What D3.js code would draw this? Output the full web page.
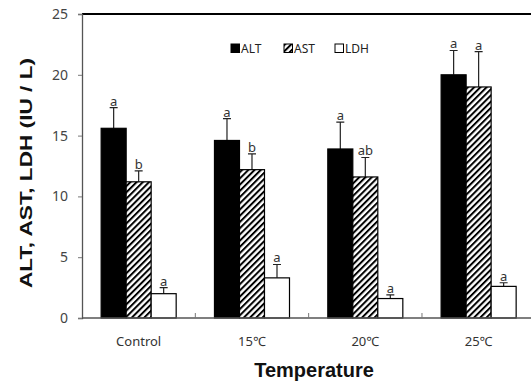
<!DOCTYPE html>
<html>
<head>
<meta charset="utf-8">
<script src="https://cdn.jsdelivr.net/npm/d3@7"></script>
<style>
  body { margin: 0; background: #fff; }
  svg { display: block; }
</style>
</head>
<body>
<script>
// values
const categories = ['Control', '15\u2103', '20\u2103', '25\u2103'];
const series = ['ALT', 'AST', 'LDH'];
const means = {
    ALT: [15.6, 14.6, 13.9, 20.0],
    AST: [11.2, 12.2, 11.6, 19.0],
    LDH: [2.0, 3.3, 1.6, 2.6]
};
const errors = {
    ALT: [1.7, 1.8, 2.2, 2.0],
    AST: [0.9, 1.3, 1.6, 2.9],
    LDH: [0.5, 1.1, 0.3, 0.3]
};
const letters = {
    ALT: ['a', 'a', 'a', 'a'],
    AST: ['b', 'b', 'ab', 'a'],
    LDH: ['a', 'a', 'a', 'a']
};
const yTicks = [0, 5, 10, 15, 20, 25];

const W = 531, H = 384;
const plotLeft = 82, plotTop = 14, plotBottom = 318;
const plotRight = 535.3;   // last band runs past the window edge

const svg = d3.select('body').append('svg')
    .attr('width', W)
    .attr('height', H);

// hatch for AST
const defs = svg.append('defs');
defs.append('pattern')
    .attr('id', 'hatch')
    .attr('patternUnits', 'userSpaceOnUse')
    .attr('width', 4.4)
    .attr('height', 4.4)
    .attr('patternTransform', 'rotate(45)')
  .call(p => {
      p.append('rect').attr('width', 4.4).attr('height', 4.4).attr('fill', '#fff');
      p.append('line')
        .attr('x1', 1).attr('y1', 0).attr('x2', 1).attr('y2', 4.4)
        .attr('stroke', '#000').attr('stroke-width', 2);
  });

const fills = { ALT: '#000', AST: 'url(#hatch)', LDH: '#fff' };

const x = d3.scaleBand()
    .domain(categories)
    .range([plotLeft, plotRight])
    .paddingInner(0.338)
    .paddingOuter(0.169);

const xs = d3.scaleBand()
    .domain(series)
    .range([0, x.bandwidth()]);

const y = d3.scaleLinear()
    .domain([0, 25])
    .range([plotBottom, plotTop]);

const font = "'Noto Sans', sans-serif";

// top border
svg.append('line')
    .attr('x1', plotLeft).attr('x2', W)
    .attr('y1', plotTop).attr('y2', plotTop)
    .attr('stroke', '#000').attr('stroke-width', 2);

// y axis
const yAxis = svg.append('g')
    .attr('transform', 'translate(' + plotLeft + ',0)')
    .call(d3.axisLeft(y).tickValues(yTicks).tickSize(4).tickPadding(10));
yAxis.select('.domain').attr('stroke', '#555').attr('stroke-width', 1.3);
yAxis.selectAll('.tick line').attr('stroke', '#777');
yAxis.selectAll('.tick text')
    .attr('font-family', font)
    .attr('font-size', 14)
    .attr('fill', '#444');

// bars
const rows = [];
categories.forEach((c, i) => {
    series.forEach(s => {
        rows.push({ cat: c, s: s, v: means[s][i], e: errors[s][i], lab: letters[s][i] });
    });
});

const g = svg.append('g');

// error bars (upper only)
g.selectAll('.err')
    .data(rows)
    .join('path')
    .attr('class', 'err')
    .attr('d', d => {
        const cx = x(d.cat) + xs(d.s) + xs.bandwidth() / 2;
        const yt = y(d.v + d.e);
        return 'M' + cx + ',' + y(d.v) + 'V' + yt + 'M' + (cx - 4) + ',' + yt + 'H' + (cx + 4);
    })
    .attr('stroke', '#222')
    .attr('stroke-width', 1.2)
    .attr('fill', 'none');

g.selectAll('.bar')
    .data(rows)
    .join('rect')
    .attr('class', 'bar')
    .attr('x', d => x(d.cat) + xs(d.s))
    .attr('y', d => y(d.v))
    .attr('width', xs.bandwidth())
    .attr('height', d => y(0) - y(d.v))
    .attr('fill', d => fills[d.s])
    .attr('stroke', '#000')
    .attr('stroke-width', 1.2);

g.selectAll('.lab')
    .data(rows)
    .join('text')
    .attr('class', 'lab')
    .attr('x', d => x(d.cat) + xs(d.s) + xs.bandwidth() / 2)
    .attr('y', d => y(d.v + d.e) - 2)
    .attr('text-anchor', 'middle')
    .attr('font-family', font)
    .attr('font-size', 13)
    .attr('fill', '#333')
    .text(d => d.lab);

// x axis line with inward ticks at band boundaries
svg.append('line')
    .attr('x1', plotLeft).attr('x2', W)
    .attr('y1', plotBottom).attr('y2', plotBottom)
    .attr('stroke', '#555').attr('stroke-width', 1.3);

svg.selectAll('.xtick')
    .data(categories.slice(1))
    .join('line')
    .attr('class', 'xtick')
    .attr('x1', (d, i) => plotLeft + (i + 1) * x.step())
    .attr('x2', (d, i) => plotLeft + (i + 1) * x.step())
    .attr('y1', plotBottom).attr('y2', plotBottom - 5)
    .attr('stroke', '#777');

svg.selectAll('.xlab')
    .data(categories)
    .join('text')
    .attr('class', 'xlab')
    .attr('x', d => x(d) + x.bandwidth() / 2)
    .attr('y', 346)
    .attr('text-anchor', 'middle')
    .attr('font-family', font)
    .attr('font-size', 13)
    .attr('fill', '#333')
    .text(d => d);

// axis titles
svg.append('text')
    .attr('x', 314)
    .attr('y', 377)
    .attr('text-anchor', 'middle')
    .attr('font-family', "'Liberation Sans', Arial, sans-serif")
    .attr('font-weight', 'bold')
    .attr('font-size', 20)
    .attr('fill', '#111')
    .text('Temperature');

svg.append('text')
    .attr('transform', 'translate(32,173) rotate(-90)')
    .attr('text-anchor', 'middle')
    .attr('font-family', "'Liberation Sans', Arial, sans-serif")
    .attr('font-weight', 'bold')
    .attr('font-size', 17)
    .attr('textLength', 230)
    .attr('lengthAdjust', 'spacingAndGlyphs')
    .attr('fill', '#111')
    .text('ALT, AST, LDH (IU / L)');

// legend
const legendX = [231, 284, 335];
const leg = svg.selectAll('.leg')
    .data(series)
    .join('g')
    .attr('class', 'leg')
    .attr('transform', (d, i) => 'translate(' + legendX[i] + ',44)');
leg.append('rect')
    .attr('width', 8.5).attr('height', 8.5)
    .attr('fill', d => fills[d])
    .attr('stroke', '#000')
    .attr('stroke-width', 1);
leg.append('text')
    .attr('x', 10)
    .attr('y', 8.5)
    .attr('font-family', font)
    .attr('font-size', 12)
    .attr('fill', '#222')
    .text(d => d);
</script>
</body>
</html>
